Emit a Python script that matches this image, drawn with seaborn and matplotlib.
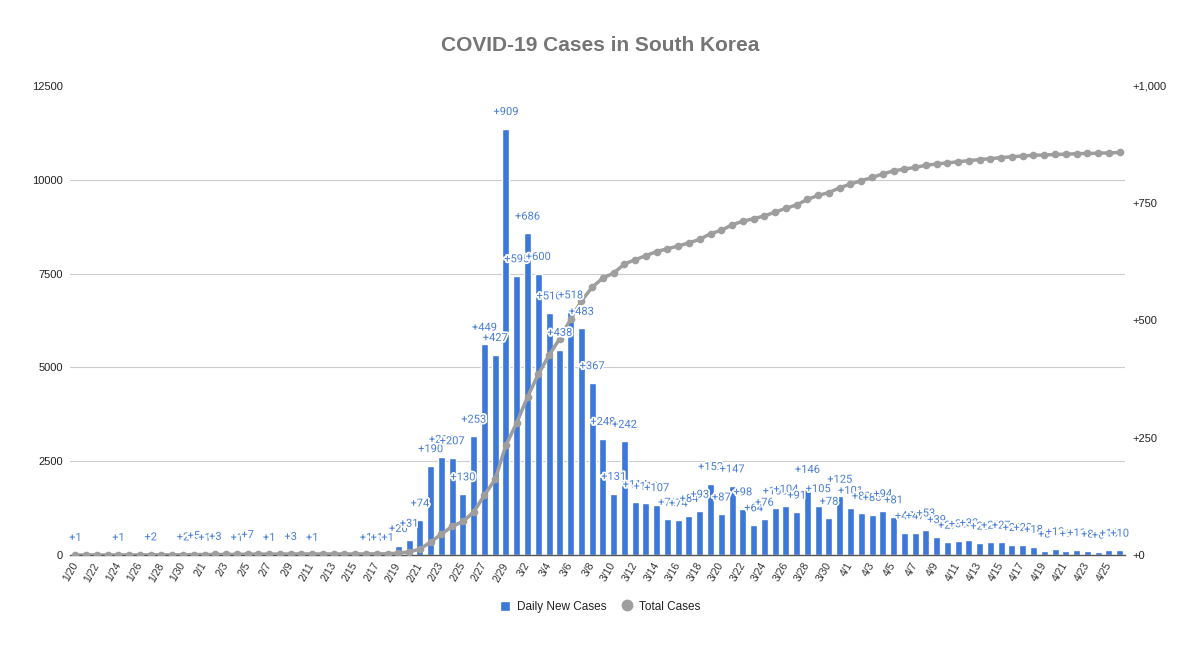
import numpy as np
import pandas as pd
import matplotlib
matplotlib.use("Agg")
import matplotlib.pyplot as plt
import matplotlib.patheffects as pe
from matplotlib.lines import Line2D
from matplotlib.patches import Patch
import seaborn as sns

# ----------------------------------------------------------
# data (1/20 .. 4/26)
# ----------------------------------------------------------
dates = pd.date_range("2020-01-20", "2020-04-26")
day_labels = [f"{d.month}/{d.day}" for d in dates]

daily_jan = [1, 0, 0, 0, 1, 0, 0, 2, 0, 0, 2, 5]
daily_feb = [1, 3, 0, 1, 7, 0, 1, 0, 3, 0, 1, 0, 0, 0, 0, 1, 1, 1, 20, 31,
             74, 190, 210, 207, 130, 253, 449, 427, 909]
daily_mar = [595, 686, 600, 516, 438, 518, 483, 367, 248, 131, 242, 114, 110,
             107, 76, 74, 84, 93, 152, 87, 147, 98, 64, 76, 100, 104, 91, 146,
             105, 78, 125]
daily_apr = [101, 89, 86, 94, 81, 47, 47, 53, 39, 27, 30, 32, 25, 27, 27, 22,
             22, 18, 8, 13, 9, 11, 8, 6, 10, 10]

total_jan = [1, 1, 1, 1, 2, 2, 2, 4, 4, 4, 6, 11]
total_feb = [12, 15, 15, 16, 23, 23, 24, 24, 27, 27, 28, 28, 28, 28, 28, 29,
             30, 31, 51, 82, 156, 346, 556, 763, 893, 1146, 1595, 2022, 2931]
total_mar = [3526, 4212, 4812, 5328, 5766, 6284, 6767, 7134, 7382, 7513, 7755,
             7869, 7979, 8086, 8162, 8236, 8320, 8413, 8565, 8652, 8799, 8897,
             8961, 9037, 9137, 9241, 9332, 9478, 9583, 9661, 9786]
total_apr = [9887, 9976, 10062, 10156, 10237, 10284, 10331, 10384, 10423,
             10450, 10480, 10512, 10537, 10564, 10591, 10613, 10635, 10653,
             10661, 10674, 10683, 10694, 10702, 10708, 10718, 10728]

daily = daily_jan + daily_feb + daily_mar + daily_apr
total = total_jan + total_feb + total_mar + total_apr

left_ticks = [0, 2500, 5000, 7500, 10000, 12500]
right_ticks = [0, 250, 500, 750, 1000]

BLUE = "#3c78d8"
LABEL_BLUE = "#4a7fd6"
GREY = "#9e9e9e"

df = pd.DataFrame({"day": day_labels, "daily": daily, "total": total,
                   "pos": np.arange(len(day_labels))})

sns.set_theme(style="white")
plt.rcParams["font.family"] = ["Liberation Sans", "DejaVu Sans"]

fig = plt.figure(figsize=(12, 6.47), dpi=100)
ax = fig.add_axes([0.0583, 0.1422, 0.8792, 0.7249])

# bars -> daily new cases (right-hand scale)
sns.barplot(data=df, x="day", y="daily", color=BLUE, saturation=1,
            width=0.65, ax=ax, zorder=2)
ax.set_ylim(0, right_ticks[-1])
ax.set_xlabel("")
ax.set_ylabel("")

ax.set_xticks(range(0, len(day_labels), 2))
ax.set_xticklabels(day_labels[::2], rotation=60, ha="right", va="center",
                   rotation_mode="anchor", fontsize=7.5, color="#333333")
ax.tick_params(axis="x", length=0, pad=6)
for s in ["top", "left", "right"]:
    ax.spines[s].set_visible(False)
ax.spines["bottom"].set_color("#555555")
ax.spines["bottom"].set_linewidth(1)

# line -> total cases (left-hand scale)
ax2 = ax.twinx()
sns.lineplot(data=df, x="pos", y="total", color=GREY, lw=2.5, marker="o",
             markersize=5.5, markeredgewidth=0, ax=ax2)
ax2.set_ylim(0, left_ticks[-1])
ax2.yaxis.tick_left()
ax2.set_yticks(left_ticks)
ax2.set_yticklabels([str(t) for t in left_ticks], fontsize=8, color="#222222")
ax2.tick_params(axis="y", length=0, pad=5)
ax2.set_xlabel("")
ax2.set_ylabel("")
for s in ax2.spines.values():
    s.set_visible(False)
ax.set_xlim(-0.5, len(day_labels) - 0.5)

# right-hand ticks for the bar axis (after twinx, which resets them)
ax.yaxis.tick_right()
ax.yaxis.set_label_position("right")
ax.set_yticks(right_ticks)
ax.set_yticklabels([f"+{v:,}" for v in right_ticks], fontsize=8, color="#222222")
# gridlines follow the left scale
ax.set_yticks([t / 12.5 for t in left_ticks], minor=True)
ax.grid(False)
ax.grid(which="minor", axis="y", color="#cccccc", lw=0.8)
ax.set_axisbelow(True)
ax.tick_params(axis="y", which="both", length=0, pad=5)

# "+n" labels above the bars
for i, v in enumerate(daily):
    if v:
        ax2.annotate(f"+{v}", xy=(i, v), xycoords=ax.transData,
                     xytext=(0, 12), textcoords="offset points",
                     ha="center", va="center", fontsize=8, color=LABEL_BLUE,
                     family=["Roboto", "DejaVu Sans"],
                     path_effects=[pe.withStroke(linewidth=2.5, foreground="white")])

fig.text(0.5, 0.930, "COVID-19 Cases in South Korea", ha="center", va="center",
         fontsize=15, fontweight="bold", color="#757575")

handles = [Patch(facecolor=BLUE, label="Daily New Cases"),
           Line2D([], [], marker="o", color=GREY, ls="", markersize=7.5,
                  label="Total Cases")]
fig.legend(handles=handles, loc="center", bbox_to_anchor=(0.5, 0.062), ncol=2,
           frameon=False, fontsize=8.5, handlelength=0.85, handleheight=0.85,
           columnspacing=1.3, handletextpad=0.6,
           labelcolor="#222222")

fig.savefig("out.png", dpi=100)
